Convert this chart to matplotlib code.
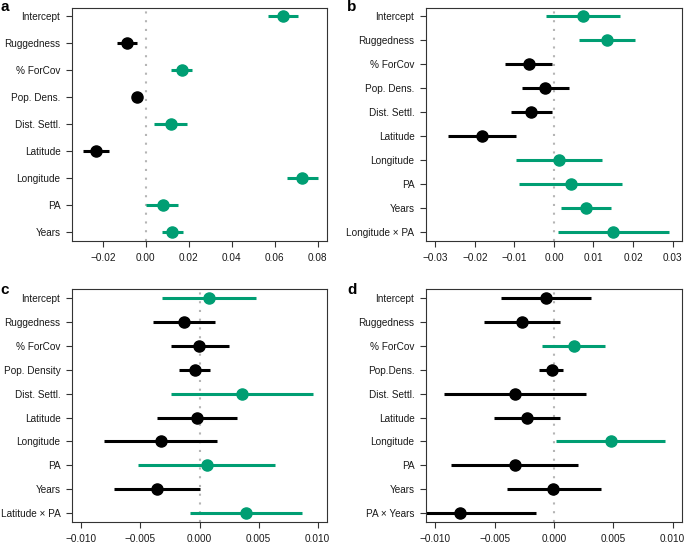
import matplotlib
matplotlib.use('Agg')
import matplotlib.pyplot as plt

plt.rcParams['font.family'] = ['Liberation Sans', 'DejaVu Sans']

# panel a
a_labels = ['Intercept', 'Ruggedness', '% ForCov', 'Pop. Dens.', 'Dist. Settl.',
            'Latitude', 'Longitude', 'PA', 'Years']
a_est = [0.0639, -0.0088, 0.0169, -0.0040, 0.0115, -0.0233, 0.0729, 0.0078, 0.0121]
a_lo = [0.0569, -0.0136, 0.0119, -0.0059, 0.0037, -0.0291, 0.0657, 0.0003, 0.0073]
a_hi = [0.0707, -0.0040, 0.0217, -0.0020, 0.0192, -0.0172, 0.0803, 0.0152, 0.0172]
a_ticks = [-0.02, 0.00, 0.02, 0.04, 0.06, 0.08]
a_ticklabels = ['\u22120.02', '0.00', '0.02', '0.04', '0.06', '0.08']

# panel b
b_labels = ['Intercept', 'Ruggedness', '% ForCov', 'Pop. Dens.', 'Dist. Settl.',
            'Latitude', 'Longitude', 'PA', 'Years', 'Longitude \u00d7 PA']
b_est = [0.0073, 0.0135, -0.0064, -0.0023, -0.0058, -0.0182, 0.0013, 0.0042, 0.0081, 0.0150]
b_lo = [-0.0019, 0.0064, -0.0125, -0.0082, -0.0108, -0.0269, -0.0096, -0.0088, 0.0017, 0.0010]
b_hi = [0.0166, 0.0206, -0.0006, 0.0037, -0.0006, -0.0096, 0.0121, 0.0173, 0.0144, 0.0290]
b_ticks = [-0.03, -0.02, -0.01, 0.00, 0.01, 0.02, 0.03]
b_ticklabels = ['\u22120.03', '\u22120.02', '\u22120.01', '0.00', '0.01', '0.02', '0.03']

# panel c
c_labels = ['Intercept', 'Ruggedness', '% ForCov', 'Pop. Density', 'Dist. Settl.',
            'Latitude', 'Longitude', 'PA', 'Years', 'Latitude \u00d7 PA']
c_est = [0.0008, -0.0013, -0.00005, -0.0004, 0.0036, -0.0002, -0.0033, 0.0006, -0.0036, 0.0039]
c_lo = [-0.0032, -0.0039, -0.0024, -0.0017, -0.0024, -0.0036, -0.0081, -0.0052, -0.0072, -0.0008]
c_hi = [0.0048, 0.0013, 0.0025, 0.0009, 0.0096, 0.0032, 0.0015, 0.0064, 0.0000, 0.0087]
c_ticks = [-0.010, -0.005, 0.000, 0.005, 0.010]
c_ticklabels = ['\u22120.010', '\u22120.005', '0.000', '0.005', '0.010']

# panel d
d_labels = ['Intercept', 'Ruggedness', '% ForCov', 'Pop.Dens.', 'Dist. Settl.',
            'Latitude', 'Longitude', 'PA', 'Years', 'PA \u00d7 Years']
d_est = [-0.0007, -0.0027, 0.0017, -0.0002, -0.0033, -0.0023, 0.0048, -0.0033, -0.00005, -0.0079]
d_lo = [-0.0045, -0.0059, -0.0010, -0.0013, -0.0093, -0.0051, 0.0002, -0.0087, -0.0040, -0.0115]
d_hi = [0.0031, 0.0005, 0.0043, 0.0008, 0.0027, 0.0005, 0.0094, 0.0020, 0.0040, -0.0015]

green = '#009E73'
frame = '#333333'

fig = plt.figure(figsize=(6.85, 5.44), dpi=100)

panels = [
    ('a', [0.1051, 0.5570, 0.3723, 0.4292], a_labels, a_est, a_lo, a_hi,
     (-0.0344, 0.0844), a_ticks, a_ticklabels, (0.001, 0.980)),
    ('b', [0.6219, 0.5570, 0.3737, 0.4292], b_labels, b_est, b_lo, b_hi,
     (-0.0324, 0.0324), b_ticks, b_ticklabels, (0.507, 0.979)),
    ('c', [0.1051, 0.0404, 0.3723, 0.4283], c_labels, c_est, c_lo, c_hi,
     (-0.0108, 0.0108), c_ticks, c_ticklabels, (0.001, 0.459)),
    ('d', [0.6219, 0.0404, 0.3737, 0.4283], d_labels, d_est, d_lo, d_hi,
     (-0.0108, 0.0108), c_ticks, c_ticklabels, (0.507, 0.459)),
]

for letter, pos, labels, est, lo, hi, xlim, ticks, ticklabels, lpos in panels:
    ax = fig.add_axes(pos)
    n = len(labels)
    ys = list(range(n))
    # dotted zero line
    ax.axvline(0, color='#b5b5b5', lw=1.5, ls=(0, (1, 3.2)), zorder=1)
    for y, e, l, h in zip(ys, est, lo, hi):
        col = green if e > 0 else 'black'
        ax.plot([l, h], [y, y], color=col, lw=2.2, solid_capstyle='butt', zorder=2)
        ax.plot(e, y, 'o', color=col, ms=8, zorder=3)
    ext = 0.04 * (n - 1)
    ax.set_ylim(n - 1 + ext, -ext)
    ax.set_xlim(*xlim)
    ax.set_yticks(ys)
    ax.set_yticklabels(labels)
    ax.set_xticks(ticks)
    ax.set_xticklabels(ticklabels)
    ax.tick_params(axis='both', labelsize=7.2, length=4.3, width=0.8,
                   color=frame, labelcolor='#1a1a1a')
    ax.tick_params(axis='x', pad=4)
    ax.tick_params(axis='y', pad=4)
    for s in ax.spines.values():
        s.set_color(frame)
        s.set_linewidth(0.8)
    fig.text(lpos[0], lpos[1], letter, fontsize=11, fontweight='bold', va='baseline')

fig.savefig('out.png', dpi=100)
